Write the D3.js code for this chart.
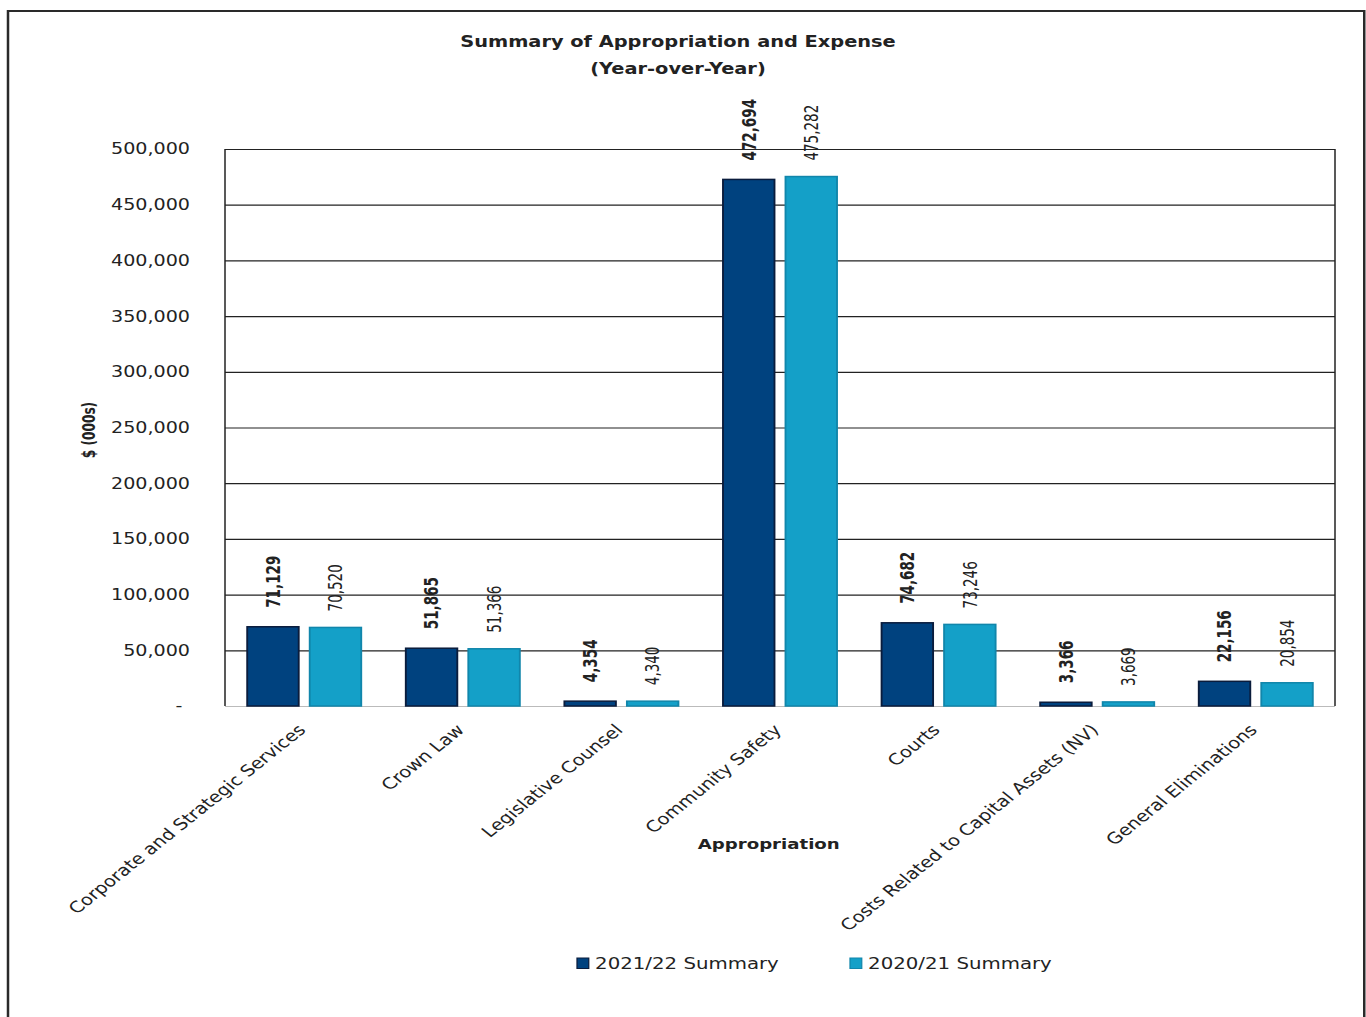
<!DOCTYPE html>
<html>
  <head>
    <meta charset="utf-8">
    <style>
      body { margin: 0; background: #fff; }
      svg { display: block; }
      text { font-family: "DejaVu Sans", Verdana, sans-serif; fill: #222; }
      .lbl { font-family: "DejaVu Sans Condensed", "DejaVu Sans", sans-serif; }
    </style>
  </head>
  <body>
    <svg width="1366" height="1017"></svg>
    <script src="https://d3js.org/d3.v7.min.js"></script>
    <script>
    // data ($ 000s)
    var categories = ["Corporate and Strategic Services", "Crown Law", "Legislative Counsel",
                      "Community Safety", "Courts", "Costs Related to Capital Assets (NV)", "General Eliminations"];
    var series = ["2021/22 Summary", "2020/21 Summary"];
    var summary2122 = [71129, 51865, 4354, 472694, 74682, 3366, 22156];
    var summary2021 = [70520, 51366, 4340, 475282, 73246, 3669, 20854];
    var yTicks = [0, 50000, 100000, 150000, 200000, 250000, 300000, 350000, 400000, 450000, 500000];
    var colors = ["#00427f", "#14a0c8"];
    var strokes = ["#0a1c3c", "#1186ab"];

    // the source image is stretched horizontally, so draw in narrower
    // coordinates and scale the whole thing by sx
    var sx = 1.25;
    var svg = d3.select("svg");
    var root = svg.append("g").attr("transform", "scale(" + sx + ",1)");

    var plot = {left: 180, right: 1068, top: 149, bottom: 706};

    var rows = categories.map(function(c, i) {
      return {cat: c, values: [summary2122[i], summary2021[i]]};
    });

    var x0 = d3.scaleBand().domain(categories).range([plot.left, plot.right])
        .paddingInner(0.281).paddingOuter(0.14);
    var x1 = d3.scaleBand().domain(series).range([0, x0.bandwidth()]).paddingInner(0.176);
    var y = d3.scaleLinear().domain([0, 500000]).range([plot.bottom, plot.top]);

    // outer frame
    root.append("rect")
        .attr("x", 6.4).attr("y", 11)
        .attr("width", 1085).attr("height", 1030)
        .attr("fill", "none").attr("stroke", "#2a2a2a").attr("stroke-width", 2);

    // title
    var title = root.append("text")
        .attr("text-anchor", "middle")
        .style("font-weight", "bold").style("font-size", "15.5px");
    title.append("tspan").attr("x", 542.4).attr("y", 47).text("Summary of Appropriation and Expense");
    title.append("tspan").attr("x", 542.4).attr("y", 74).text("(Year-over-Year)");

    // gridlines + y axis labels
    var yAxis = d3.axisLeft(y).tickValues(yTicks)
        .tickSize(-(plot.right - plot.left)).tickPadding(28)
        .tickFormat(function(d) { return d === 0 ? "-" : d3.format(",")(d); });
    var ga = root.append("g")
        .attr("transform", "translate(" + plot.left + ",0)")
        .call(yAxis);
    ga.select(".domain").remove();
    ga.selectAll(".tick line").attr("stroke-width", 1.2)
        .attr("stroke", function(d) { return d === 0 ? "#bbb" : "#222"; });
    ga.selectAll(".tick text")
        .style("font-size", "15.3px").style("font-family", "'DejaVu Sans', Verdana, sans-serif")
        .attr("fill", "#222")
        .attr("dx", function(d) { return d === 0 ? -6 : 0; });

    // plot side borders
    root.append("line").attr("x1", plot.left).attr("x2", plot.left)
        .attr("y1", plot.top).attr("y2", plot.bottom)
        .attr("stroke", "#222").attr("stroke-width", 1.2);
    root.append("line").attr("x1", plot.right).attr("x2", plot.right)
        .attr("y1", plot.top).attr("y2", plot.bottom)
        .attr("stroke", "#222").attr("stroke-width", 1.2);

    // bars
    var groups = root.selectAll(".grp").data(rows).enter().append("g")
        .attr("class", "grp")
        .attr("transform", function(d) { return "translate(" + x0(d.cat) + ",0)"; });

    groups.selectAll("rect").data(function(d) { return d.values; }).enter().append("rect")
        .attr("x", function(d, i) { return x1(series[i]); })
        .attr("y", function(d) { return y(d); })
        .attr("width", x1.bandwidth())
        .attr("height", function(d) { return y(0) - y(d); })
        .attr("fill", function(d, i) { return colors[i]; })
        .attr("stroke", function(d, i) { return strokes[i]; })
        .attr("stroke-width", 1.5);

    // value labels
    groups.selectAll(".lbl").data(function(d) { return d.values; }).enter().append("text")
        .attr("class", "lbl")
        .attr("transform", function(d, i) {
          var cx = x1(series[i]) + x1.bandwidth() / 2;
          var gap = i === 0 ? 19 : 16;
          return "translate(" + cx + "," + (y(d) - gap) + ") rotate(-90)";
        })
        .attr("dy", "0.36em")
        .style("font-size", "15px")
        .style("font-weight", function(d, i) { return i === 0 ? "bold" : "normal"; })
        .attr("fill", "#111")
        .text(function(d) { return d3.format(",")(d); });

    // category labels
    root.selectAll(".cat").data(categories).enter().append("text")
        .attr("class", "cat")
        .attr("text-anchor", "end")
        .attr("transform", function(d) {
          return "translate(" + (x0(d) + x0.bandwidth() / 2 + 2) + ",731) rotate(-45)";
        })
        .style("font-size", "15.7px")
        .text(function(d) { return d; });

    // axis titles
    root.append("text")
        .attr("x", 615).attr("y", 849)
        .attr("text-anchor", "middle")
        .style("font-weight", "bold").style("font-size", "14.5px")
        .text("Appropriation");

    root.append("text")
        .attr("transform", "translate(76,430) rotate(-90)")
        .attr("text-anchor", "middle")
        .attr("class", "lbl")
        .style("font-weight", "bold").style("font-size", "13.5px")
        .text("$ (000s)");

    // legend
    var legX = [461.6, 680];
    var leg = root.selectAll(".leg").data(series).enter().append("g")
        .attr("class", "leg")
        .attr("transform", function(d, i) { return "translate(" + legX[i] + ",958)"; });
    leg.append("rect")
        .attr("width", 9.4).attr("height", 10.5)
        .attr("fill", function(d, i) { return colors[i]; })
        .attr("stroke", function(d, i) { return strokes[i]; })
        .attr("stroke-width", 1);
    leg.append("text")
        .attr("x", 14.5).attr("y", 11)
        .style("font-size", "15.8px")
        .text(function(d) { return d; });
    </script>
  </body>
</html>
